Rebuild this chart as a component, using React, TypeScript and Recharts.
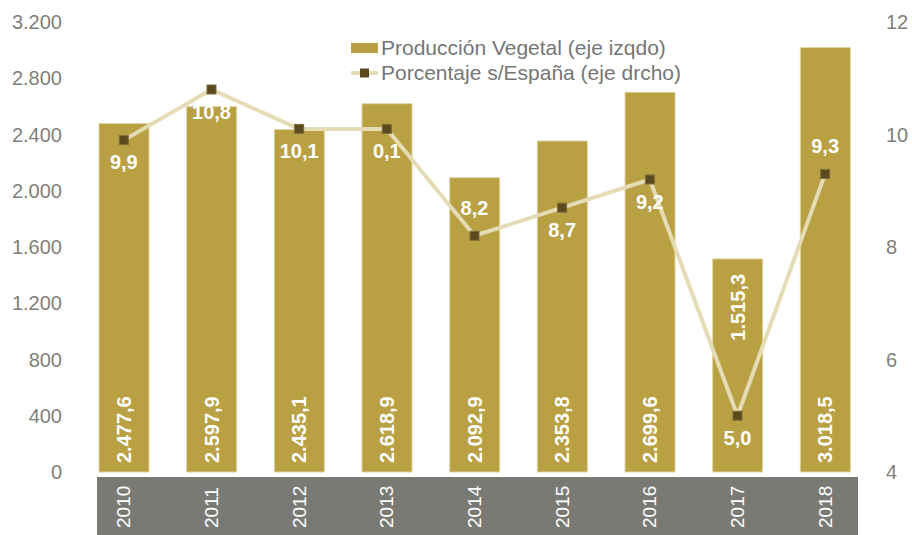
import {
  ComposedChart,
  Bar,
  Line,
  XAxis,
  YAxis,
  LabelList,
} from "recharts";

const years = ["2010", "2011", "2012", "2013", "2014", "2015", "2016", "2017", "2018"];
const produccion = [2477.6, 2597.9, 2435.1, 2618.9, 2092.9, 2353.8, 2699.6, 1515.3, 3018.5];
const porcentaje = [9.9, 10.8, 10.1, 10.1, 8.2, 8.7, 9.2, 5.0, 9.3];
const porcentajeLabels = ["9,9", "10,8", "10,1", "0,1", "8,2", "8,7", "9,2", "5,0", "9,3"];
const leftTicks = [0, 400, 800, 1200, 1600, 2000, 2400, 2800, 3200];
const rightTicks = [4, 6, 8, 10, 12];
// label placement tweaks seen in the original
const labelAboveYears = ["2014", "2018"];
const barLabelTopYears = ["2017"];

const data = years.map((year, i) => ({
  year,
  produccion: produccion[i],
  porcentaje: porcentaje[i],
  label: porcentajeLabels[i],
}));

const BAR = "#b8a043";
const LINE = "#e5dcb6";
const MARK = "#5a4a1d";
const GRAY = "#7f7f7b";
const FONT = "'Liberation Sans', Arial, sans-serif";

const groupThousands = (s: string) => s.replace(/\B(?=(\d{3})+(?!\d))/g, ".");
const fmtLeft = (v: number) => groupThousands(String(v));
const fmtBar = (v: number) => {
  const [int, dec] = v.toFixed(1).split(".");
  return `${groupThousands(int)},${dec}`;
};

const YearTick = ({ x, y, payload }: any) => {
  const ty = y + 56;
  return (
    <text
      x={x}
      y={ty}
      transform={`rotate(-90, ${x}, ${ty})`}
      textAnchor="start"
      dominantBaseline="central"
      fill="#ffffff"
      fontSize={19}
      fontFamily={FONT}
    >
      {payload.value}
    </text>
  );
};

const BarValueLabel = ({ x, y, width, height, value, index }: any) => {
  const cx = x + width / 2;
  const atTop = barLabelTopYears.includes(data[index].year);
  const ty = atTop ? y + 15 : y + height - 9;
  return (
    <text
      x={cx}
      y={ty}
      transform={`rotate(-90, ${cx}, ${ty})`}
      textAnchor={atTop ? "end" : "start"}
      dominantBaseline="central"
      fill="#ffffff"
      fontSize={20}
      fontWeight={700}
      fontFamily={FONT}
    >
      {fmtBar(value)}
    </text>
  );
};

const PctLabel = ({ x, y, index }: any) => {
  const d = data[index];
  const above = labelAboveYears.includes(d.year);
  return (
    <text
      x={x}
      y={above ? y - 28 : y + 22}
      textAnchor="middle"
      dominantBaseline="central"
      fill="#ffffff"
      fontSize={20}
      fontWeight={700}
      fontFamily={FONT}
    >
      {d.label}
    </text>
  );
};

const SquareDot = ({ cx, cy, index }: any) => (
  <rect
    key={`dot-${index}`}
    x={cx - 4.5}
    y={cy - 4.5}
    width={9}
    height={9}
    fill={MARK}
    stroke="#7c6c3a"
    strokeWidth={1}
  />
);

const LegendBox = () => (
  <div
    style={{
      position: "absolute",
      left: 351,
      top: 35,
      fontFamily: FONT,
      fontSize: 21,
      color: "#767676",
      lineHeight: "25px",
      whiteSpace: "nowrap",
    }}
  >
    <div style={{ display: "flex", alignItems: "center" }}>
      <span style={{ width: 27, height: 10, background: BAR, marginRight: 3 }} />
      Producción Vegetal (eje izqdo)
    </div>
    <div style={{ display: "flex", alignItems: "center" }}>
      <svg width={27} height={12} style={{ marginRight: 3 }}>
        <line x1={0} y1={6} x2={27} y2={6} stroke={LINE} strokeWidth={4} />
        <rect x={9} y={1.5} width={9} height={9} fill={MARK} />
      </svg>
      Porcentaje s/España (eje drcho)
    </div>
  </div>
);

export default function App() {
  return (
    <div
      style={{
        position: "absolute",
        left: 0,
        top: 0,
        width: 912,
        height: 535,
        background: "#ffffff",
      }}
    >
      <div
        style={{
          position: "absolute",
          left: 97,
          top: 477,
          width: 761,
          height: 58,
          background: "#7a7a75",
        }}
      />
      <ComposedChart
        width={912}
        height={535}
        data={data}
        margin={{ top: 22, right: 0, bottom: 0, left: 0 }}
        style={{ position: "absolute", left: 0, top: 0 }}
      >
        <XAxis
          dataKey="year"
          axisLine={false}
          tickLine={false}
          tickSize={0}
          tickMargin={0}
          height={63}
          interval={0}
          tick={<YearTick />}
        />
        <YAxis
          yAxisId="left"
          domain={[0, 3200]}
          ticks={leftTicks}
          tickFormatter={fmtLeft}
          axisLine={false}
          tickLine={false}
          tickSize={0}
          tickMargin={18}
          width={80}
          tick={{ fill: GRAY, fontSize: 20, fontFamily: FONT }}
        />
        <YAxis
          yAxisId="right"
          orientation="right"
          domain={[4, 12]}
          ticks={rightTicks}
          axisLine={false}
          tickLine={false}
          tickSize={0}
          tickMargin={17}
          width={43}
          tick={{ fill: GRAY, fontSize: 20, fontFamily: FONT }}
        />
        <Bar
          yAxisId="left"
          dataKey="produccion"
          name="Producción Vegetal (eje izqdo)"
          fill={BAR}
          stroke="#ddd2a0"
          strokeWidth={1}
          barSize={50}
          isAnimationActive={false}
        >
          <LabelList dataKey="produccion" content={<BarValueLabel />} />
        </Bar>
        <Line
          yAxisId="right"
          dataKey="porcentaje"
          name="Porcentaje s/España (eje drcho)"
          type="linear"
          stroke={LINE}
          strokeWidth={4}
          dot={<SquareDot />}
          activeDot={false}
          isAnimationActive={false}
        >
          <LabelList dataKey="porcentaje" content={<PctLabel />} />
        </Line>
      </ComposedChart>
      <LegendBox />
    </div>
  );
}
